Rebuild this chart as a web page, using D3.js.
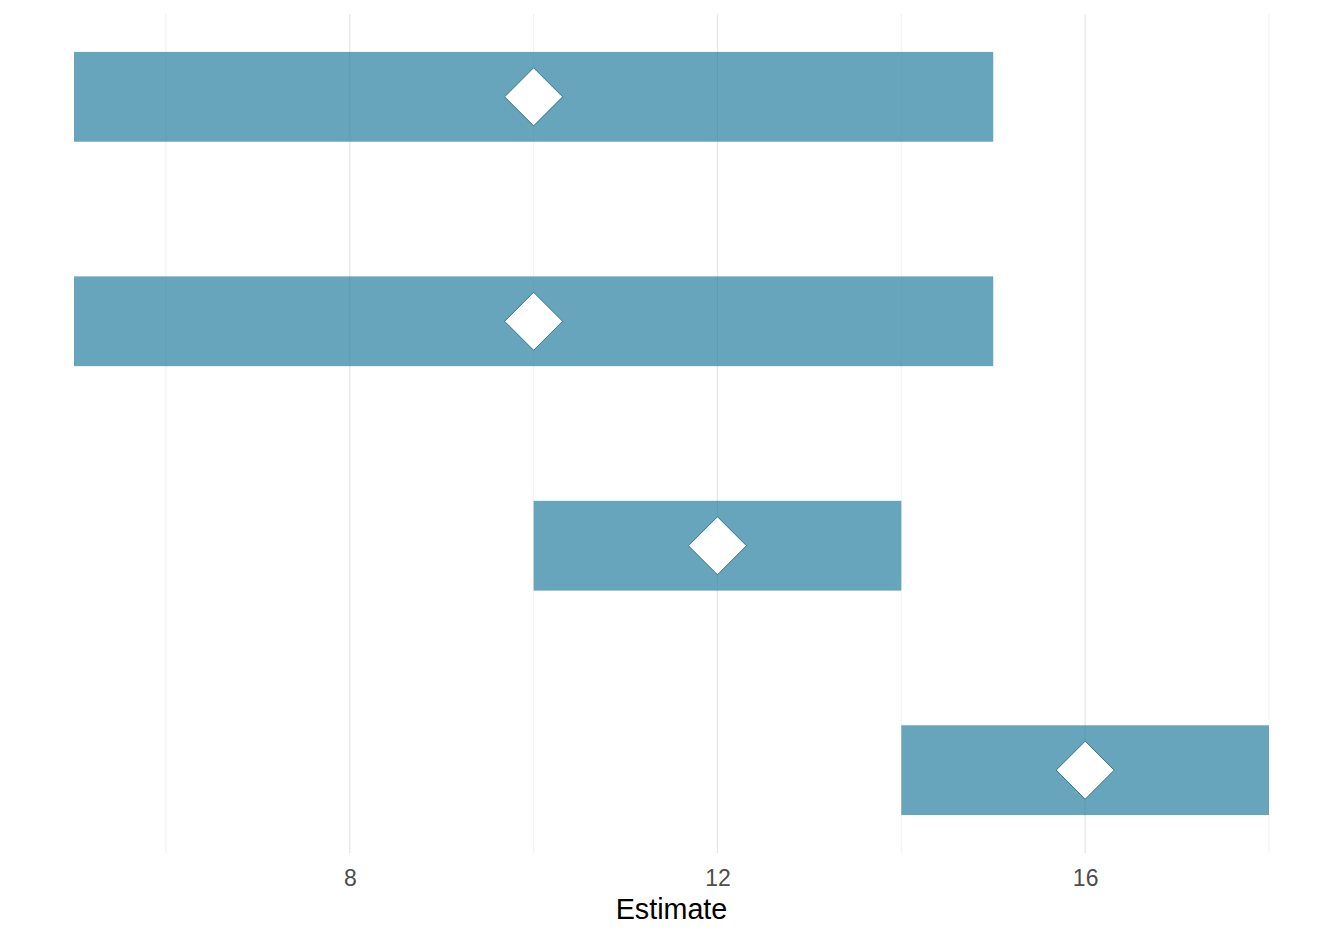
<!DOCTYPE html>
<html>
<head>
<meta charset="utf-8">
<script src="https://cdn.jsdelivr.net/npm/d3@7"></script>
<style>
  body { margin: 0; background: #fff; }
  svg { display: block; font-family: "Liberation Sans", Arial, sans-serif; }
</style>
</head>
<body>
<svg id="chart" width="1344" height="940"></svg>
<script>
// data
const categories = ['A', 'B', 'C', 'D'];
const lower = [5, 5, 10, 14];
const upper = [15, 15, 14, 18];
const estimate = [10, 10, 12, 16];
const majorTicks = [8, 12, 16];
const minorTicks = [6, 10, 14, 18];

const rows = categories.map((c, i) => ({ cat: c, lo: lower[i], hi: upper[i], est: estimate[i] }));

const svg = d3.select('#chart');
const panel = { left: 74, right: 1269, top: 14, bottom: 853 };

const x = d3.scaleLinear().domain([5, 18]).range([panel.left, panel.right]);
const y = d3.scalePoint().domain(categories).range([panel.top, panel.bottom]).padding(0.369);
const barH = y.step() * 0.4;

// grid lines
svg.append('g').selectAll('line.minor').data(minorTicks).join('line')
  .attr('x1', d => x(d)).attr('x2', d => x(d))
  .attr('y1', panel.top).attr('y2', panel.bottom)
  .attr('stroke', '#ebebeb').attr('stroke-width', 0.7);
svg.append('g').selectAll('line.major').data(majorTicks).join('line')
  .attr('x1', d => x(d)).attr('x2', d => x(d))
  .attr('y1', panel.top).attr('y2', panel.bottom)
  .attr('stroke', '#e6e6e6').attr('stroke-width', 1.3);

// interval bars
svg.append('g').selectAll('rect').data(rows).join('rect')
  .attr('x', d => x(d.lo))
  .attr('width', d => x(d.hi) - x(d.lo))
  .attr('y', d => y(d.cat) - barH / 2)
  .attr('height', barH)
  .attr('fill', '#27809f')
  .attr('fill-opacity', 0.71);

// diamonds for the estimates
const r = 29;
svg.append('g').selectAll('path').data(rows).join('path')
  .attr('transform', d => `translate(${x(d.est)},${y(d.cat)})`)
  .attr('d', `M0,${-r}L${r},0L0,${r}L${-r},0Z`)
  .attr('fill', '#fff')
  .attr('stroke', '#1a5f78')
  .attr('stroke-width', 0.8);

// x axis
const axis = svg.append('g')
  .attr('transform', `translate(0,${panel.bottom})`)
  .call(d3.axisBottom(x).tickValues(majorTicks).tickSize(0).tickPadding(0));
axis.select('.domain').remove();
axis.selectAll('text')
  .attr('dy', null)
  .attr('y', 33)
  .attr('fill', '#4d4d4d')
  .style('font-size', '23px')
  .style('font-family', '"Liberation Sans", Arial, sans-serif');

svg.append('text')
  .attr('x', (panel.left + panel.right) / 2)
  .attr('y', 919)
  .attr('text-anchor', 'middle')
  .attr('fill', '#000')
  .style('font-size', '28.7px')
  .text('Estimate');
</script>
</body>
</html>
